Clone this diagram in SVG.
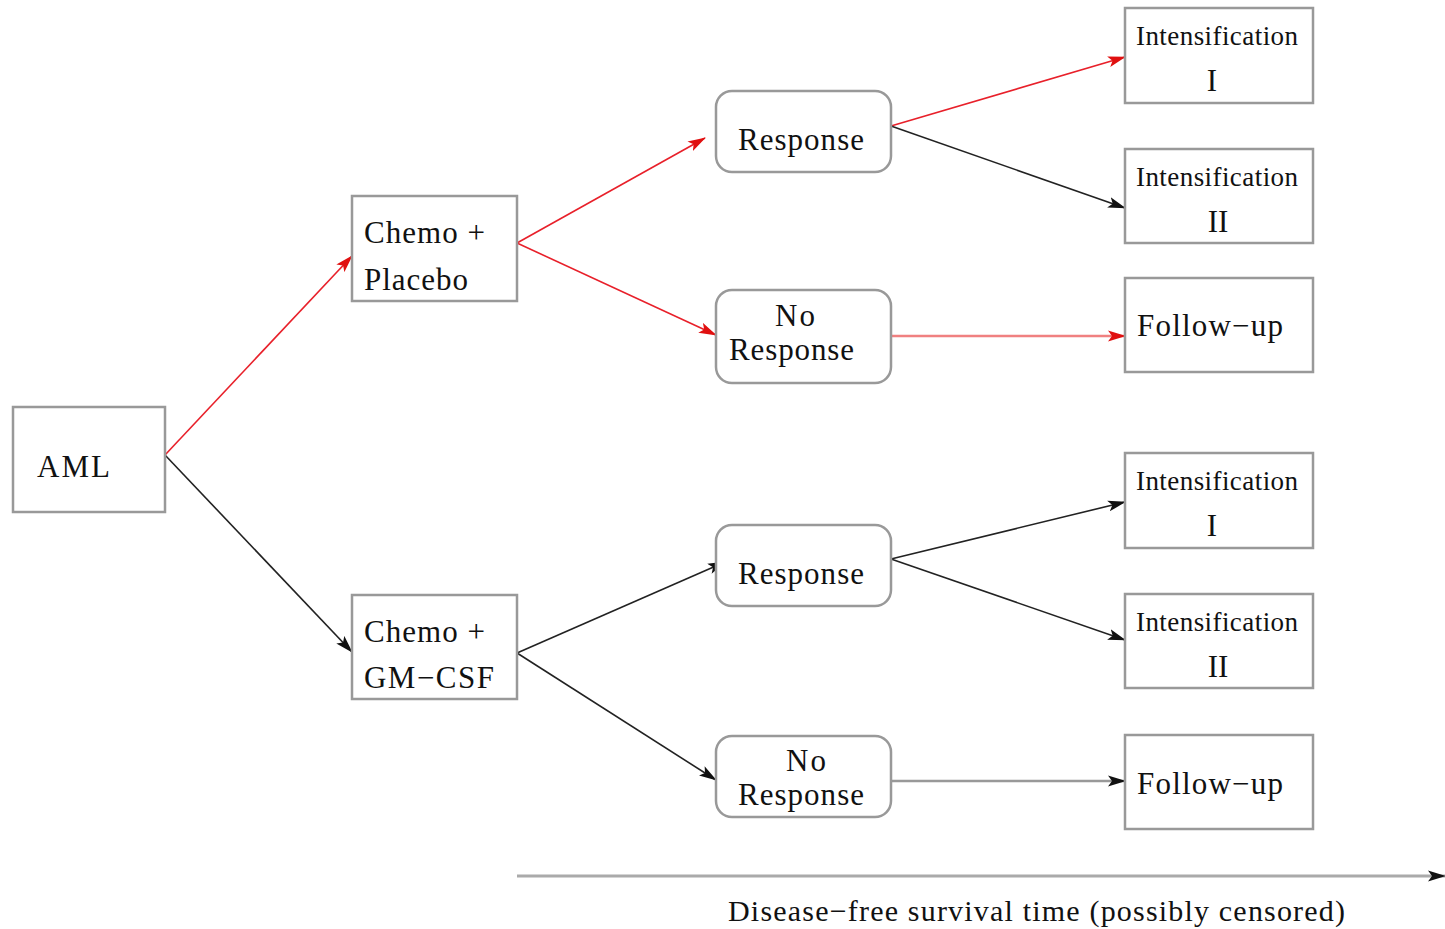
<svg xmlns="http://www.w3.org/2000/svg" width="1445" height="929" viewBox="0 0 1445 929">
<defs>
<marker id="ab" markerUnits="userSpaceOnUse" markerWidth="18" markerHeight="12" refX="17" refY="6" orient="auto"><path d="M0,0.5 L18,6 L0,11.5 L4,6 Z" fill="#111"/></marker>
<marker id="ar" markerUnits="userSpaceOnUse" markerWidth="18" markerHeight="12" refX="17" refY="6" orient="auto"><path d="M0,0.5 L18,6 L0,11.5 L4,6 Z" fill="#e01010"/></marker>
</defs>
<style>
.box{fill:#fff;stroke:#999;stroke-width:2.5}
text{font-family:"Liberation Serif","DejaVu Serif",serif;fill:#111}
.t{font-size:31px}
.s{font-size:27px}
.a{font-size:30px}
.e{fill:none;stroke-width:1.6}
.k{stroke:#222;marker-end:url(#ab)}
.r{stroke:#e8202a;marker-end:url(#ar)}
</style>
<rect width="1445" height="929" fill="#fff"/>
<g id="connectors">
<line class="e r" x1="165" y1="455" x2="352" y2="256"/>
<line class="e k" x1="165" y1="455" x2="352" y2="652"/>
<line class="e r" x1="517" y1="243" x2="705" y2="138"/>
<line class="e r" x1="517" y1="243" x2="716" y2="335"/>
<line class="e r" x1="891" y1="126" x2="1125" y2="57"/>
<line class="e k" x1="891" y1="126" x2="1125" y2="208"/>
<line class="e r" x1="891" y1="336" x2="1125" y2="336" style="stroke:#f08080;stroke-width:2.5"/>
<line class="e k" x1="517" y1="653" x2="725" y2="562"/>
<line class="e k" x1="517" y1="653" x2="716" y2="780"/>
<line class="e k" x1="891" y1="559" x2="1125" y2="502"/>
<line class="e k" x1="891" y1="559" x2="1125" y2="640"/>
<line class="e k" x1="891" y1="781" x2="1125" y2="781" style="stroke:#999;stroke-width:2.5"/>
<line class="e k" x1="517" y1="876" x2="1445" y2="876" style="stroke:#aaa;stroke-width:3"/>
</g>
<g id="aml"><rect class="box" x="13" y="407" width="152" height="105"/><text class="t" x="37" y="477" textLength="73">AML</text></g>
<g id="chemo-placebo"><rect class="box" x="352" y="196" width="165" height="105"/><text class="t" x="364" y="243" textLength="121">Chemo +</text><text class="t" x="364" y="290" textLength="104">Placebo</text></g>
<g id="chemo-gmcsf"><rect class="box" x="352" y="595" width="165" height="104"/><text class="t" x="364" y="642" textLength="121">Chemo +</text><text class="t" x="364" y="688" textLength="130">GM−CSF</text></g>
<g id="response-1"><rect class="box" x="716" y="91" width="175" height="81" rx="16"/><text class="t" x="738" y="150" textLength="126">Response</text></g>
<g id="noresponse-1"><rect class="box" x="716" y="290" width="175" height="93" rx="16"/><text class="t" x="775" y="326" textLength="40">No</text><text class="t" x="729" y="360" textLength="125">Response</text></g>
<g id="response-2"><rect class="box" x="716" y="525" width="175" height="81" rx="16"/><text class="t" x="738" y="584" textLength="126">Response</text></g>
<g id="noresponse-2"><rect class="box" x="716" y="736" width="175" height="81" rx="16"/><text class="t" x="786" y="771" textLength="40">No</text><text class="t" x="738" y="805" textLength="126">Response</text></g>
<g id="int1-a"><rect class="box" x="1125" y="8" width="188" height="95"/><text class="s" x="1136" y="45" textLength="162">Intensification</text><text class="t" x="1212" y="91" text-anchor="middle">I</text></g>
<g id="int2-a"><rect class="box" x="1125" y="149" width="188" height="94"/><text class="s" x="1136" y="186" textLength="162">Intensification</text><text class="t" x="1218" y="232" text-anchor="middle">II</text></g>
<g id="follow-a"><rect class="box" x="1125" y="278" width="188" height="94"/><text class="t" x="1137" y="336" textLength="146">Follow−up</text></g>
<g id="int1-b"><rect class="box" x="1125" y="453" width="188" height="95"/><text class="s" x="1136" y="490" textLength="162">Intensification</text><text class="t" x="1212" y="536" text-anchor="middle">I</text></g>
<g id="int2-b"><rect class="box" x="1125" y="594" width="188" height="94"/><text class="s" x="1136" y="631" textLength="162">Intensification</text><text class="t" x="1218" y="677" text-anchor="middle">II</text></g>
<g id="follow-b"><rect class="box" x="1125" y="735" width="188" height="94"/><text class="t" x="1137" y="794" textLength="146">Follow−up</text></g>
<text class="a" x="728" y="921" textLength="617">Disease−free survival time (possibly censored)</text>
</svg>
